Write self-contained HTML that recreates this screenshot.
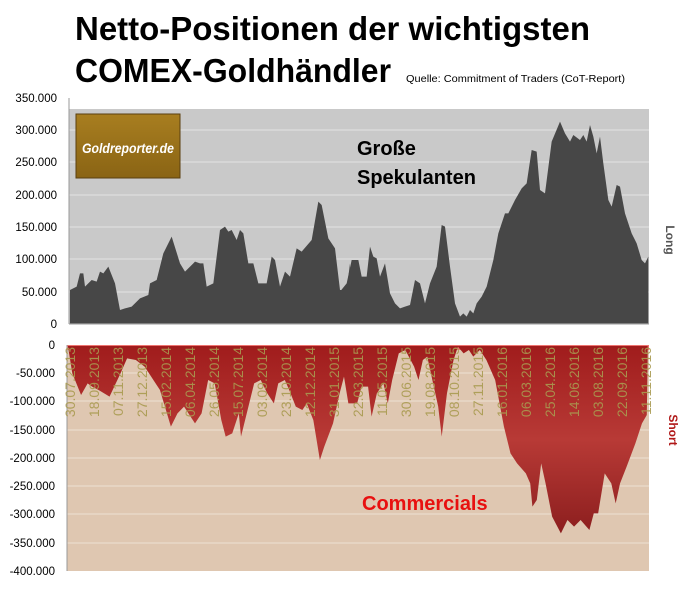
<!DOCTYPE html>
<html><head><meta charset="utf-8"><style>body{margin:0;background:#fff}svg{display:block}</style></head><body>
<svg width="687" height="600" viewBox="0 0 687 600" xmlns="http://www.w3.org/2000/svg" font-family="Liberation Sans, sans-serif">
<defs>
<linearGradient id="gb" x1="0" y1="0" x2="0" y2="1"><stop offset="0" stop-color="#a01c1c"/><stop offset="0.5" stop-color="#b83a36"/><stop offset="1" stop-color="#8c1e1e"/></linearGradient>
<linearGradient id="lg" x1="0" y1="0" x2="0" y2="1"><stop offset="0" stop-color="#a87e20"/><stop offset="1" stop-color="#8a6414"/></linearGradient>
</defs>
<text x="75" y="40" font-size="33" font-weight="bold" textLength="515" lengthAdjust="spacingAndGlyphs">Netto-Positionen der wichtigsten</text>
<text x="75" y="82" font-size="33" font-weight="bold" textLength="316" lengthAdjust="spacingAndGlyphs">COMEX-Goldhändler</text>
<text x="406" y="82" font-size="10" textLength="219" lengthAdjust="spacingAndGlyphs">Quelle: Commitment of Traders (CoT-Report)</text>

<rect x="69" y="109" width="580" height="215" fill="#c9c9c9"/>
<g stroke="#e4e4e4" stroke-width="1">
<line x1="69" y1="130" x2="649" y2="130"/><line x1="69" y1="162" x2="649" y2="162"/><line x1="69" y1="195" x2="649" y2="195"/><line x1="69" y1="227" x2="649" y2="227"/><line x1="69" y1="259" x2="649" y2="259"/><line x1="69" y1="292" x2="649" y2="292"/>
</g>
<g transform="translate(0,90) scale(0.33333)" fill="#474747">
<polygon points="210,700 210,600 230,590 240,550 250,550 255,590 275,570 290,575 300,545 310,550 325,530 345,580 360,660 375,655 395,650 420,625 445,615 450,580 470,570 490,490 515,440 540,520 555,545 580,520 585,515 600,520 610,520 620,590 640,580 660,420 675,410 685,425 695,420 710,450 720,420 730,430 745,520 760,520 775,580 800,580 815,500 825,510 840,590 855,545 870,560 890,475 905,485 935,450 955,335 965,345 985,445 1005,475 1020,600 1040,600 1050,520 1050,700"/>
</g>
<g transform="translate(340,90) scale(0.33333)" fill="#474747">
<polygon points="0,700 0,605 20,580 35,510 55,510 65,560 80,560 90,470 100,500 110,505 120,560 135,520 150,610 165,640 180,655 195,650 210,645 225,570 240,580 255,640 270,580 290,530 305,405 315,410 330,530 345,640 360,680 370,670 380,680 390,660 400,670 410,640 425,620 440,590 460,510 475,430 495,370 505,370 525,330 545,295 560,280 575,180 590,185 600,300 615,310 635,155 660,95 675,130 690,155 700,135 720,150 730,135 740,155 750,105 760,140 770,190 780,140 790,220 805,330 815,350 830,285 840,290 855,370 875,430 890,460 905,510 915,520 925,500 925,700"/>
</g>
<line x1="69" y1="324" x2="649" y2="324" stroke="#999"/>
<line x1="69" y1="98" x2="69" y2="324" stroke="#999"/>
<g font-size="11.5" text-anchor="end" fill="#000">
<text x="57" y="102">350.000</text><text x="57" y="134">300.000</text><text x="57" y="166">250.000</text><text x="57" y="199">200.000</text><text x="57" y="231">150.000</text><text x="57" y="263">100.000</text><text x="57" y="296">50.000</text><text x="57" y="328">0</text>
</g>
<rect x="76" y="114" width="104" height="64" fill="url(#lg)" stroke="#5a4010"/>
<text x="82" y="153" font-size="14" font-style="italic" font-weight="bold" fill="#fff" textLength="92" lengthAdjust="spacingAndGlyphs">Goldreporter.de</text>
<text x="357" y="155" font-size="20" font-weight="bold">Große</text>
<text x="357" y="184" font-size="20" font-weight="bold">Spekulanten</text>
<text transform="translate(666,240) rotate(90)" font-size="12" font-weight="bold" fill="#555" text-anchor="middle">Long</text>

<rect x="67" y="345" width="582" height="226" fill="#dfc7b1"/>
<rect x="67" y="345" width="582" height="5" fill="#ee7470"/>
<g stroke="#ece0d4" stroke-width="1">
<line x1="67" y1="373" x2="649" y2="373"/><line x1="67" y1="401" x2="649" y2="401"/><line x1="67" y1="430" x2="649" y2="430"/><line x1="67" y1="458" x2="649" y2="458"/><line x1="67" y1="486" x2="649" y2="486"/><line x1="67" y1="514" x2="649" y2="514"/><line x1="67" y1="543" x2="649" y2="543"/>
</g>
<g transform="translate(0,340) scale(0.4382,0.33333)" fill="url(#gb)">
<polygon points="155,18 165,100 185,165 200,130 210,140 225,150 250,170 275,100 290,55 310,60 330,80 345,110 365,150 390,260 405,220 420,200 445,250 460,220 475,120 490,130 505,240 515,290 530,280 545,220 550,290 565,210 580,130 595,120 610,160 625,190 635,130 650,120 660,150 675,200 690,210 700,190 715,240 730,360 740,320 760,250 775,160 785,110 795,190 815,190 825,140 840,140 848,230 860,160 875,130 885,190 895,120 910,40 925,30 945,80 955,120 965,60 975,50 985,110 1000,200 1008,290 1020,160 1035,60 1045,20 1058,40 1070,30 1080,50 1095,30 1110,60 1130,120 1150,260 1165,340 1180,370 1200,400 1210,430 1215,500 1225,480 1235,370 1245,430 1260,530 1280,580 1295,540 1310,560 1325,540 1345,570 1355,520 1365,520 1380,400 1395,430 1405,490 1415,430 1430,380 1450,310 1465,250 1476,225 1478,60 1478,18"/>
</g>
<line x1="67" y1="345" x2="67" y2="571" stroke="#999"/>
<g font-size="11.5" text-anchor="end" fill="#000">
<text x="55" y="349">0</text><text x="55" y="377">-50.000</text><text x="55" y="405">-100.000</text><text x="55" y="434">-150.000</text><text x="55" y="462">-200.000</text><text x="55" y="490">-250.000</text><text x="55" y="518">-300.000</text><text x="55" y="547">-350.000</text><text x="55" y="575">-400.000</text>
</g>
<g font-size="14" fill="#a89a50" fill-opacity="0.9" text-anchor="end">
<text transform="translate(75,347) rotate(-90)">30.07.2013</text>
<text transform="translate(99,347) rotate(-90)">18.09.2013</text>
<text transform="translate(123,347) rotate(-90)">07.11.2013</text>
<text transform="translate(147,347) rotate(-90)">27.12.2013</text>
<text transform="translate(171,347) rotate(-90)">15.02.2014</text>
<text transform="translate(195,347) rotate(-90)">06.04.2014</text>
<text transform="translate(219,347) rotate(-90)">26.05.2014</text>
<text transform="translate(243,347) rotate(-90)">15.07.2014</text>
<text transform="translate(267,347) rotate(-90)">03.09.2014</text>
<text transform="translate(291,347) rotate(-90)">23.10.2014</text>
<text transform="translate(315,347) rotate(-90)">12.12.2014</text>
<text transform="translate(339,347) rotate(-90)">31.01.2015</text>
<text transform="translate(363,347) rotate(-90)">22.03.2015</text>
<text transform="translate(387,347) rotate(-90)">11.05.2015</text>
<text transform="translate(411,347) rotate(-90)">30.06.2015</text>
<text transform="translate(435,347) rotate(-90)">19.08.2015</text>
<text transform="translate(459,347) rotate(-90)">08.10.2015</text>
<text transform="translate(483,347) rotate(-90)">27.11.2015</text>
<text transform="translate(507,347) rotate(-90)">16.01.2016</text>
<text transform="translate(531,347) rotate(-90)">06.03.2016</text>
<text transform="translate(555,347) rotate(-90)">25.04.2016</text>
<text transform="translate(579,347) rotate(-90)">14.06.2016</text>
<text transform="translate(603,347) rotate(-90)">03.08.2016</text>
<text transform="translate(627,347) rotate(-90)">22.09.2016</text>
<text transform="translate(651,347) rotate(-90)">11.11.2016</text>
</g>
<text x="362" y="510" font-size="20" font-weight="bold" fill="#e81010">Commercials</text>
<text transform="translate(669,430) rotate(90)" font-size="12" font-weight="bold" fill="#b01818" text-anchor="middle">Short</text>
</svg>
</body></html>
